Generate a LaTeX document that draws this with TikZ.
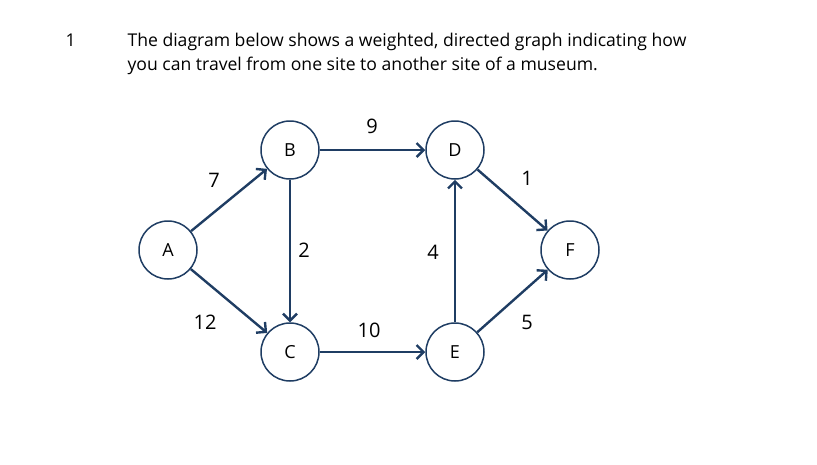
\documentclass[tikz,border=0pt]{standalone}
\usepackage{fontspec}
\setmainfont{Open Sans}
\usetikzlibrary{arrows.meta}
\definecolor{edge}{HTML}{1F3D63}
\begin{document}
\begin{tikzpicture}[x=1pt,y=-1pt,
  vert/.style={circle,draw=edge,line width=1.5pt,minimum size=58pt,inner sep=0pt,font=\fontsize{18}{21}\selectfont},
  arc/.style={draw=edge,line width=2.4pt,-{Straight Barb[length=7pt,width=14pt]}},
  wt/.style={font=\fontsize{20}{23}\selectfont}]
\useasboundingbox (0,0) rectangle (817,464);
\node[anchor=base west,font=\fontsize{17.6}{22}\selectfont] (num) at (62,46) {1};
\node[anchor=base west,font=\fontsize{17.6}{22}\selectfont] (t1) at (124,46) {The diagram below shows a weighted, directed graph indicating how};
\node[anchor=base west,font=\fontsize{17.6}{22}\selectfont] (t2) at (124,70) {you can travel from one site to another site of a museum.};
\node[vert] (A) at (168,250) {A};
\node[vert] (B) at (290,150) {B};
\node[vert] (C) at (290,352) {C};
\node[vert] (D) at (455,150) {D};
\node[vert] (E) at (455,352) {E};
\node[vert] (F) at (570,250) {F};
\draw[arc] (A) -- (B);
\draw[arc] (A) -- (C);
\draw[arc] (B) -- (D);
\draw[arc] (B) -- (C);
\draw[arc] (C) -- (E);
\draw[arc] (E) -- (D);
\draw[arc] (D) -- (F);
\draw[arc] (E) -- (F);
\node[wt] (w7) at (214,180) {7};
\node[wt] (w12) at (205,322) {12};
\node[wt] (w9) at (372,126) {9};
\node[wt] (w2) at (304,250) {2};
\node[wt] (w10) at (369,330) {10};
\node[wt] (w4) at (433,252) {4};
\node[wt] (w1) at (527,178) {1};
\node[wt] (w5) at (527,322) {5};
\end{tikzpicture}
\end{document}
